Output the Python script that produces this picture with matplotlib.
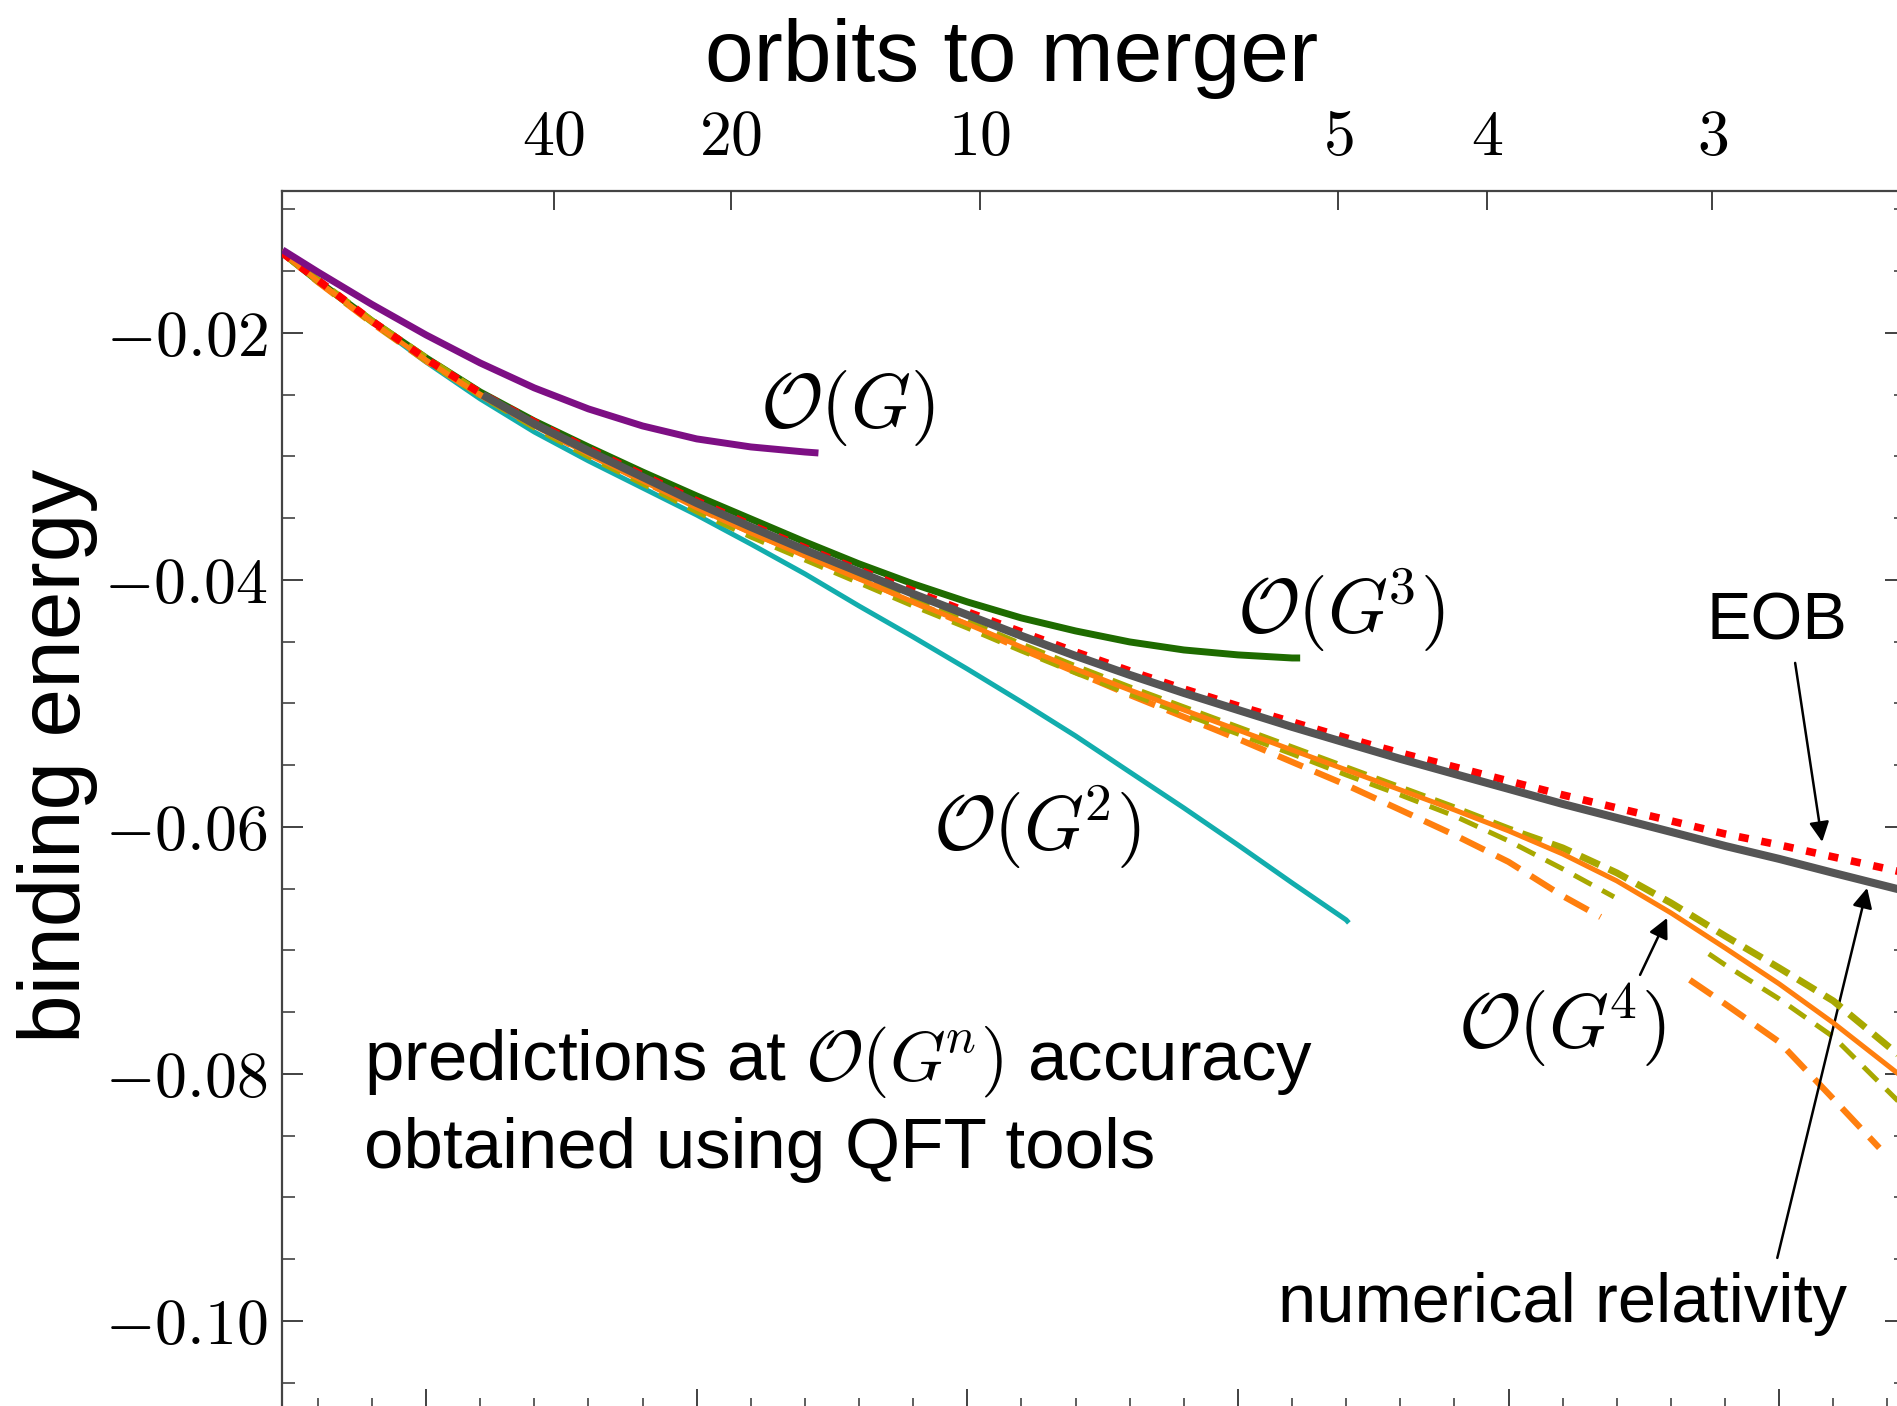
import numpy as np
import matplotlib
matplotlib.use("Agg")
import matplotlib.pyplot as plt
from matplotlib.ticker import MultipleLocator, FuncFormatter

plt.rcParams["mathtext.fontset"] = "cm"
plt.rcParams["font.family"] = ["Liberation Sans", "DejaVu Sans"]

# --- data (bottom axis: orbital frequency, binding energy) ---
nan = np.nan

x_grid = [0.0147, 0.016, 0.018, 0.020, 0.022, 0.024, 0.026, 0.028, 0.030, 0.032,
          0.034, 0.036, 0.038, 0.040, 0.042, 0.044, 0.046, 0.048, 0.050, 0.052,
          0.054, 0.056, 0.058, 0.060, 0.062, 0.064, 0.066, 0.068, 0.070, 0.072, 0.0745]

# O(G)
x_G1 = [0.0147, 0.016, 0.018, 0.020, 0.022, 0.024, 0.026, 0.028, 0.030, 0.032, 0.034, 0.0345]
E_G1 = [-0.01328, -0.01506, -0.01769, -0.02016, -0.02243, -0.02445, -0.02615, -0.02753,
        -0.02858, -0.02923, -0.02964, -0.02972]

# O(G^2)
x_G2 = [0.0147, 0.016, 0.018, 0.020, 0.022, 0.024, 0.026, 0.028, 0.030, 0.032, 0.034,
        0.036, 0.038, 0.040, 0.042, 0.044, 0.046, 0.048, 0.050, 0.052, 0.054, 0.0541]
E_G2 = [-0.01352, -0.01579, -0.01911, -0.02235, -0.02534, -0.02802, -0.03036, -0.03255,
        -0.03474, -0.03709, -0.03951, -0.04211, -0.04462, -0.04721, -0.04988, -0.05263,
        -0.05555, -0.05846, -0.06146, -0.06453, -0.06753, -0.06777]

# O(G^3)
x_G3 = [0.0147, 0.016, 0.018, 0.020, 0.022, 0.024, 0.026, 0.028, 0.030, 0.032, 0.034,
        0.036, 0.038, 0.040, 0.042, 0.044, 0.046, 0.048, 0.050, 0.052, 0.0523]
E_G3 = [-0.01352, -0.01579, -0.01903, -0.02202, -0.02478, -0.02713, -0.02923, -0.03126,
        -0.03320, -0.03506, -0.03692, -0.03870, -0.04032, -0.04178, -0.04308, -0.04413,
        -0.04502, -0.04567, -0.04607, -0.04632, -0.04632]

# O(G^4) main curve and its variants
E_G4 = [-0.01352, -0.01579, -0.01911, -0.02219, -0.02502, -0.02753, -0.02980, -0.03198,
        -0.03417, -0.03619, -0.03806, -0.03992, -0.04178, -0.04356, -0.04543, -0.04721,
        -0.04891, -0.05053, -0.05215, -0.05377, -0.05538, -0.05700, -0.05862, -0.06032,
        -0.06219, -0.06437, -0.06696, -0.06980, -0.07271, -0.07587, -0.08016]
E_G4_olive = [-0.01352, -0.01571, -0.01903, -0.02202, -0.02486, -0.02737, -0.02964, -0.03182,
              -0.03401, -0.03603, -0.03789, -0.03976, -0.04162, -0.04340, -0.04526, -0.04704,
              -0.04874, -0.05036, -0.05198, -0.05360, -0.05522, -0.05684, -0.05846, -0.06016,
              -0.06170, -0.06372, -0.06615, -0.06883, -0.07142, -0.07409, -0.07862]

x_olive_dash = [0.0147, 0.016, 0.018, 0.020, 0.022, 0.024, 0.026, 0.028, 0.030, 0.032, 0.034,
                0.036, 0.038, 0.040, 0.042, 0.044, 0.046, 0.048, 0.050, 0.052, 0.054, 0.056,
                0.058, 0.060, 0.062, 0.0639, nan, 0.0674, 0.068, 0.070, 0.072, 0.0745]
E_olive_dash = [-0.01352, -0.01587, -0.01919, -0.02227, -0.02510, -0.02769, -0.03004, -0.03223,
                -0.03449, -0.03652, -0.03838, -0.04024, -0.04211, -0.04389, -0.04575, -0.04753,
                -0.04923, -0.05085, -0.05247, -0.05409, -0.05579, -0.05741, -0.05911, -0.06113,
                -0.06340, -0.06567, nan, -0.07028, -0.07117, -0.07393, -0.07700, -0.08243]

x_orange_dash = [0.0147, 0.016, 0.018, 0.020, 0.022, 0.024, 0.026, 0.028, 0.030, 0.032, 0.034,
                 0.036, 0.038, 0.040, 0.042, 0.044, 0.046, 0.048, 0.050, 0.052, 0.054, 0.056,
                 0.058, 0.060, 0.062, 0.0634, nan, 0.0667, 0.068, 0.070, 0.072, 0.0737]
E_orange_dash = [-0.01352, -0.01587, -0.01919, -0.02227, -0.02502, -0.02753, -0.02980, -0.03198,
                 -0.03417, -0.03611, -0.03798, -0.03984, -0.04178, -0.04364, -0.04559, -0.04745,
                 -0.04931, -0.05109, -0.05287, -0.05474, -0.05660, -0.05862, -0.06065, -0.06283,
                 -0.06559, -0.06729, nan, -0.07239, -0.07433, -0.07741, -0.08202, -0.08599]

# EOB
E_EOB = [-0.01352, -0.01571, -0.01903, -0.02211, -0.02486, -0.02721, -0.02939, -0.03150,
         -0.03360, -0.03555, -0.03741, -0.03919, -0.04089, -0.04259, -0.04421, -0.04583,
         -0.04737, -0.04883, -0.05020, -0.05150, -0.05279, -0.05401, -0.05514, -0.05628,
         -0.05741, -0.05846, -0.05951, -0.06057, -0.06146, -0.06243, -0.06364]

# numerical relativity
x_NR = [0.0221, 0.024, 0.026, 0.028, 0.030, 0.032, 0.034, 0.036, 0.038, 0.040, 0.042,
        0.044, 0.046, 0.048, 0.050, 0.052, 0.054, 0.056, 0.058, 0.060, 0.062, 0.064,
        0.066, 0.068, 0.070, 0.072, 0.0745]
E_NR = [-0.02502, -0.02737, -0.02955, -0.03166, -0.03377, -0.03571, -0.03757, -0.03935,
        -0.04113, -0.04283, -0.04453, -0.04615, -0.04769, -0.04915, -0.05053, -0.05190,
        -0.05320, -0.05449, -0.05571, -0.05692, -0.05814, -0.05927, -0.06040, -0.06154,
        -0.06259, -0.06372, -0.06510]

# top axis: orbits to merger
orbit_labels = [40, 20, 10, 5, 4, 3]
orbit_pos = [0.02473, 0.03127, 0.04047, 0.05370, 0.05921, 0.06752]

# --- figure ---
fig = plt.figure(figsize=(18.97, 14.06), dpi=100)
ax = fig.add_axes([0.1484, -0.0028, 0.8564, 0.8672])
ax.set_xlim(0.01466, 0.07469)
ax.set_ylim(-0.10721, -0.008478)

c_orange = "#ff7f0e"
c_olive = "#a8a800"

ax.plot(x_G2, E_G2, color="#12adad", lw=3.6, zorder=2, solid_capstyle="butt")
ax.plot(x_G3, E_G3, color="#1e6b00", lw=5, zorder=2, solid_capstyle="butt")
ax.plot(x_orange_dash, E_orange_dash, color=c_orange, lw=4.5, ls=(0, (4.3, 2.1)), zorder=3)
ax.plot(x_olive_dash, E_olive_dash, color=c_olive, lw=3.6, ls=(0, (4.0, 2.4)), zorder=3)
ax.plot(x_grid, E_G4_olive, color=c_olive, lw=5, ls=(0, (3.0, 1.5)), zorder=4)
ax.plot(x_grid, E_G4, color=c_orange, lw=3.6, zorder=5)
ax.plot(x_grid, E_EOB, color="#ff0000", lw=5.5, ls=(0, (1.3, 1.7)), zorder=6)
ax.plot(x_NR, E_NR, color="#555555", lw=5.8, zorder=7, solid_capstyle="butt")
ax.plot(x_G1, E_G1, color="#7d0f84", lw=5, zorder=8, solid_capstyle="butt")

# axes styling
for s in ax.spines.values():
    s.set_linewidth(1.6)
    s.set_color("#444444")
ax.xaxis.set_major_locator(MultipleLocator(0.01))
ax.xaxis.set_minor_locator(MultipleLocator(0.002))
ax.yaxis.set_major_locator(MultipleLocator(0.02))
ax.yaxis.set_minor_locator(MultipleLocator(0.005))
ax.yaxis.set_major_formatter(FuncFormatter(lambda v, p: f"${v:.2f}$"))
ax.tick_params(which="both", direction="in", left=True, right=True, bottom=True, top=False,
               labelbottom=False, color="#333333")
ax.tick_params(which="major", length=15, width=1.3, labelsize=46, pad=10)
ax.tick_params(which="minor", length=9, width=1.1)

ax2 = ax.twiny()
ax2.set_xlim(ax.get_xlim())
ax2.set_xticks(orbit_pos)
ax2.set_xticklabels([f"${n}$" for n in orbit_labels])
ax2.tick_params(which="major", direction="in", length=14, width=1.3, labelsize=46, pad=16,
                color="#333333")
ax2.tick_params(which="minor", top=False, bottom=False)
for s in ax2.spines.values():
    s.set_visible(False)

# labels
fig.text(0.5335, 0.9425, "orbits to merger", fontsize=63, ha="center", va="baseline")
fig.text(0.0305, 0.4623, "binding energy", fontsize=63, rotation=90, ha="center", va="center")

ax.text(0.03556, -0.02607, r"$\mathcal{O}(G)$", fontsize=55, ha="center", va="center")
ax.text(0.04258, -0.06000, r"$\mathcal{O}(G^{\!2})$", fontsize=55, ha="center", va="center")
ax.text(0.05381, -0.04243, r"$\mathcal{O}(G^{\!3})$", fontsize=55, ha="center", va="center")
ax.text(0.06198, -0.07603, r"$\mathcal{O}(G^{\!4})$", fontsize=55, ha="center", va="center")

ax.text(0.01771, -0.08049, r"predictions at $\mathcal{O}(G^{\!n})$ accuracy", fontsize=51,
        ha="left", va="baseline")
ax.text(0.01771, -0.08761, "obtained using QFT tools", fontsize=51, ha="left", va="baseline")

arrow = dict(arrowstyle="-|>,head_length=0.6,head_width=0.3", color="black", lw=1.8,
             mutation_scale=20, shrinkA=0, shrinkB=0)
ax.text(0.06993, -0.04348, "EOB", fontsize=48, ha="center", va="center")
ax.annotate("", xy=(0.07159, -0.06121), xytext=(0.07059, -0.04672), arrowprops=arrow)
ax.text(0.07250, -0.10008, "numerical relativity", fontsize=49.5, ha="right", va="baseline")
ax.annotate("", xy=(0.07325, -0.06494), xytext=(0.06993, -0.09490), arrowprops=arrow)
ax.annotate("", xy=(0.06586, -0.06737), xytext=(0.06486, -0.07198), arrowprops=arrow)

fig.savefig("out.png", dpi=100)
